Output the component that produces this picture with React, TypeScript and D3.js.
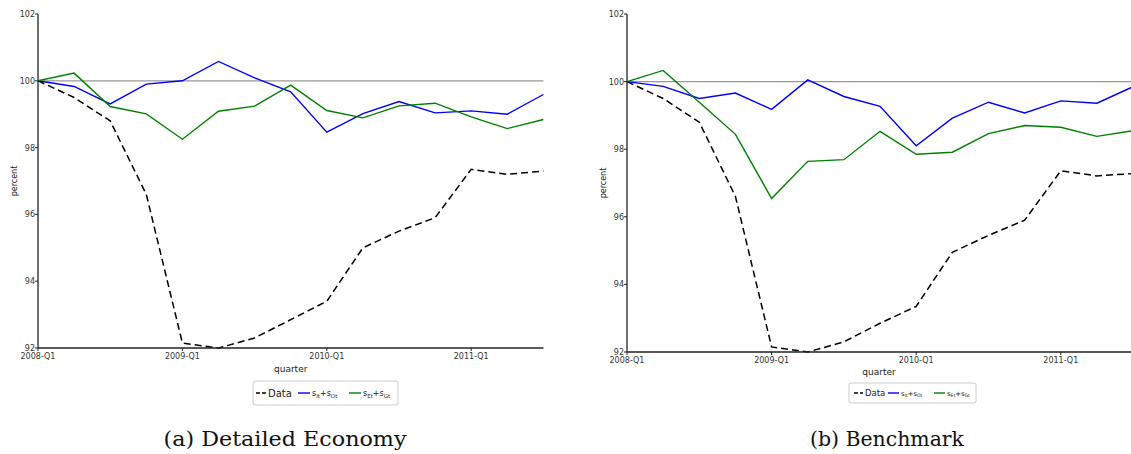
import React from "react";
import * as d3 from "d3";

const quarters = d3.range(15);
const tickQuarters = [0, 4, 8, 12];
const tickLabels = ["2008-Q1", "2009-Q1", "2010-Q1", "2011-Q1"];
const yTicks = [92, 94, 96, 98, 100, 102];

const dataA = [100, 99.5, 98.8, 96.6, 92.15, 92.0, 92.3, 92.85, 93.4, 95.0, 95.5, 95.9, 97.35, 97.2, 97.3];
const blueA = [100, 99.83, 99.31, 99.9, 100, 100.58, 100.09, 99.67, 98.46, 99.02, 99.38, 99.04, 99.1, 99.0, 99.59];
const greenA = [100, 100.23, 99.23, 99.01, 98.25, 99.09, 99.24, 99.87, 99.11, 98.89, 99.25, 99.33, 98.92, 98.57, 98.84];

const dataB = [100, 99.5, 98.8, 96.6, 92.15, 92.0, 92.3, 92.85, 93.35, 94.95, 95.45, 95.9, 97.36, 97.21, 97.28];
const blueB = [100, 99.86, 99.5, 99.66, 99.18, 100.05, 99.56, 99.27, 98.1, 98.92, 99.39, 99.07, 99.43, 99.36, 99.85];
const greenB = [100, 100.33, 99.39, 98.44, 96.54, 97.64, 97.69, 98.53, 97.85, 97.91, 98.46, 98.7, 98.65, 98.38, 98.55];

type Leg = { x: number; y: number; w: number; h: number; fs: number; sub: number; pos: number[]; capW: number };
type PanelProps = {
  left: number; right: number; top: number; bottom: number;
  data: number[]; blue: number[]; green: number[];
  ylabX: number; xlabY: number; legend: Leg; caption: string; capX: number;
};

const Label = ({ x, y, a, b, fs, sub }: any) => (
  <text x={x} y={y} fontSize={fs} fill="#222" fontFamily="DejaVu Sans, sans-serif">
    s<tspan fontSize={sub} dy={1.5}>{a}</tspan>
    <tspan dy={-1.5}>+s</tspan>
    <tspan fontSize={sub} dy={1.5}>{b}</tspan>
  </text>
);

const Panel = (p: PanelProps) => {
  const x = d3.scaleLinear().domain([0, 14]).range([p.left, p.right]);
  const y = d3.scaleLinear().domain([92, 102]).range([p.bottom, p.top]);
  const line = (vals: number[]) =>
    d3.line<number>().x((_, i) => x(quarters[i])).y((v) => y(v))(vals) || "";
  const L = p.legend;
  // pos: dashStart, dashEnd, dataText, blueStart, blueEnd, blueText, greenStart, greenEnd, greenText
  const [d0, d1, dt, b0, b1, bt, g0, g1, gt] = L.pos;
  const ly = L.y + L.h / 2;
  return (
    <g>
      <line x1={p.left} x2={p.right} y1={y(100)} y2={y(100)} stroke="#999" strokeWidth={1.2} />
      <path d={line(p.data)} fill="none" stroke="#000" strokeWidth={1.5} strokeDasharray="7,4" />
      <path d={line(p.blue)} fill="none" stroke="#0000ff" strokeWidth={1.4} />
      <path d={line(p.green)} fill="none" stroke="#008000" strokeWidth={1.4} />
      <line x1={p.left} x2={p.left} y1={p.top} y2={p.bottom} stroke="#222" strokeWidth={1.3} />
      <line x1={p.left} x2={p.right} y1={p.bottom} y2={p.bottom} stroke="#222" strokeWidth={1.3} />
      {yTicks.map((t) => (
        <g key={t}>
          <line x1={p.left - 3} x2={p.left} y1={y(t)} y2={y(t)} stroke="#222" />
          <text x={p.left - 3} y={y(t) + 3} fontSize={8} textAnchor="end" fill="#333" fontFamily="DejaVu Sans, sans-serif">{t}</text>
        </g>
      ))}
      {tickQuarters.map((q, i) => (
        <g key={q}>
          <line x1={x(q)} x2={x(q)} y1={p.bottom} y2={p.bottom + 3} stroke="#222" />
          <text x={x(q)} y={p.bottom + 11} fontSize={8} textAnchor="middle" fill="#333" fontFamily="DejaVu Sans, sans-serif">{tickLabels[i]}</text>
        </g>
      ))}
      <text transform={`translate(${p.ylabX},${(p.top + p.bottom) / 2}) rotate(-90)`} fontSize={8} textAnchor="middle" fill="#222" fontFamily="DejaVu Sans, sans-serif">percent</text>
      <text x={(p.left + Math.min(p.right, 1131)) / 2} y={p.xlabY} fontSize={9} textAnchor="middle" fill="#222" fontFamily="DejaVu Sans, sans-serif">quarter</text>
      <rect x={L.x} y={L.y} width={L.w} height={L.h} rx={2} fill="#fff" stroke="#ccc" />
      <line x1={d0} x2={d1} y1={ly} y2={ly} stroke="#000" strokeWidth={1.4} strokeDasharray="4,2" />
      <text x={dt} y={ly + L.fs * 0.36} fontSize={L.fs} fill="#222" fontFamily="DejaVu Sans, sans-serif">Data</text>
      <line x1={b0} x2={b1} y1={ly} y2={ly} stroke="#0000ff" strokeWidth={1.4} />
      <Label x={bt} y={ly + L.fs * 0.3} a="It" b="Ot" fs={L.fs * 0.8} sub={L.sub} />
      <line x1={g0} x2={g1} y1={ly} y2={ly} stroke="#008000" strokeWidth={1.4} />
      <Label x={gt} y={ly + L.fs * 0.3} a="Et" b="Gt" fs={L.fs * 0.8} sub={L.sub} />
      <text x={p.capX} y={446} fontSize={21} textAnchor="middle" fill="#111" fontFamily="DejaVu Serif, serif" textLength={L.capW} lengthAdjust="spacingAndGlyphs">{p.caption}</text>
    </g>
  );
};

export default function App() {
  return (
    <svg width={1131} height={454} style={{ position: "absolute", left: 0, top: 0, background: "#fff" }}>
      <rect width={1131} height={454} fill="#fff" />
      <Panel left={38} right={543.4} top={14} bottom={348} data={dataA} blue={blueA} green={greenA}
        ylabX={17} xlabY={372}
        legend={{ x: 253, y: 381, w: 145, h: 24, fs: 10, sub: 5.5, capW: 243,
          pos: [256, 266, 268, 298, 310, 312, 349, 361, 363] }}
        caption="(a) Detailed Economy" capX={285} />
      <Panel left={627} right={1133.1} top={14} bottom={352} data={dataB} blue={blueB} green={greenB}
        ylabX={606} xlabY={375}
        legend={{ x: 849, y: 383, w: 127, h: 20, fs: 8.5, sub: 4.6, capW: 154,
          pos: [854, 863, 865, 888, 899, 901, 934, 945, 947] }}
        caption="(b) Benchmark" capX={887} />
    </svg>
  );
}
